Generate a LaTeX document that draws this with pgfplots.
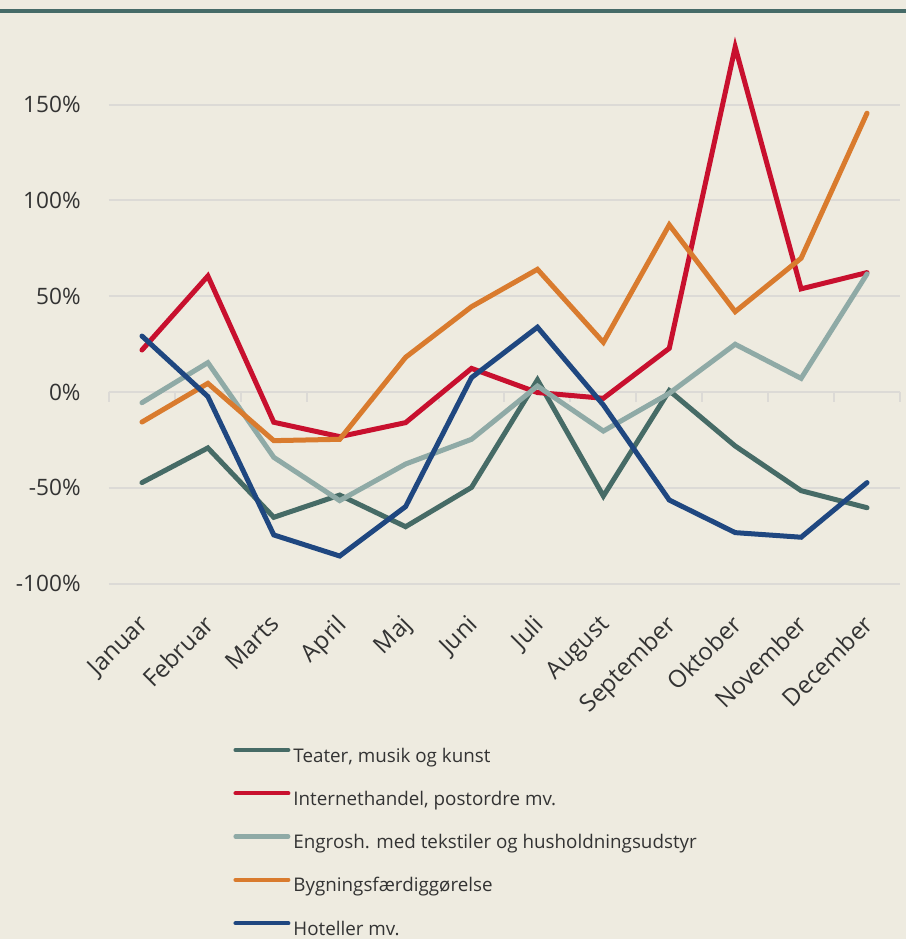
\documentclass[border=0pt]{standalone}
\usepackage{fontspec}
\setmainfont{Open Sans}
\usepackage{pgfplots}
\pgfplotsset{compat=1.18}
\definecolor{bgc}{HTML}{EEEBE0}
\definecolor{gridc}{HTML}{DCDAD6}
\definecolor{topc}{HTML}{466B68}
\definecolor{cteater}{HTML}{466B66}
\definecolor{cinternet}{HTML}{C8102E}
\definecolor{cengros}{HTML}{8FAAA6}
\definecolor{cbyg}{HTML}{D97B2E}
\definecolor{chotel}{HTML}{1F4780}
\definecolor{txt}{HTML}{333333}
\begin{document}
\begin{tikzpicture}
\fill[bgc] (-54.5pt,-177.7pt) rectangle (398.5pt,291.8pt);
\draw[topc, line width=1.6pt] (-54.5pt,286.3pt) -- (398.5pt,286.3pt);
\begin{axis}[
  scale only axis,
  width=395.5pt, height=270.2pt,
  xmin=-0.5, xmax=11.5, ymin=-100, ymax=182,
  clip=false,
  axis line style={draw=none},
  xtick style={draw=none}, ytick style={draw=none},
  xtick={0,...,11},
  xticklabels={Januar,Februar,Marts,April,Maj,Juni,Juli,August,September,Oktober,November,December},
  ytick={-100,-50,0,50,100,150},
  yticklabels={-100\%,-50\%,0\%,50\%,100\%,150\%},
  ymajorgrids,
  grid style={gridc, line width=1pt},
  yticklabel style={anchor=east, inner sep=0pt, xshift=-14pt, font=\fontsize{11.3pt}{13pt}\selectfont, text=txt},
  xticklabel style={rotate=45, anchor=north east, inner sep=0pt, yshift=-8.6pt, xshift=-12.2pt, font=\fontsize{12pt}{14pt}\selectfont, text=txt},
  every axis plot/.append style={line width=2.5pt, line cap=round, line join=miter},
  legend style={at={(0.1568,-0.303)}, anchor=north west, draw=none, fill=none,
    inner sep=0pt, row sep=13pt, column sep=1.5pt,
    nodes={inner sep=0pt, text=txt},
    font=\fontsize{9.4pt}{11pt}\selectfont},
  legend cell align=left,
  legend image code/.code={\draw[#1, line width=2.2pt, line cap=round] (1.1pt,3.2pt) -- (27.4pt,3.2pt);},
]
\draw[gridc, line width=1pt] (axis cs:-0.5,0) -- (axis cs:11.5,0);
\pgfplotsinvokeforeach{-0.5,0.5,1.5,2.5,3.5,4.5,5.5,6.5,7.5,8.5,9.5,10.5,11.5}{
  \draw[gridc, line width=1pt] (axis cs:#1,0) -- (axis cs:#1,-5.2);
}
\addplot[cteater] coordinates {(0,-47.3) (1,-29.2) (2,-65.4) (3,-53.8) (4,-70.3) (5,-49.8) (6,6.3) (7,-54.3) (8,0.7) (9,-28.2) (10,-51.5) (11,-60.4)};
\addlegendentry{Teater, musik og kunst}
\addplot[cinternet] coordinates {(0,21.9) (1,60.5) (2,-15.8) (3,-23.3) (4,-16) (5,12.3) (6,-0.3) (7,-3.3) (8,22.8) (9,180) (10,53.8) (11,62.3)};
\addlegendentry{Internethandel, postordre mv.}
\addplot[cengros] coordinates {(0,-5.6) (1,15.3) (2,-34.1) (3,-56.7) (4,-37.6) (5,-24.7) (6,3.1) (7,-20.4) (8,-0.7) (9,24.9) (10,7.1) (11,61.6)};
\addlegendentry{Engrosh. med tekstiler og husholdningsudstyr}
\addplot[cbyg] coordinates {(0,-15.7) (1,4.5) (2,-25.4) (3,-24.7) (4,18.1) (5,44.5) (6,64) (7,25.9) (8,87.2) (9,41.9) (10,69.8) (11,145.5)};
\addlegendentry{Bygningsfærdiggørelse}
\addplot[chotel] coordinates {(0,29.2) (1,-2.4) (2,-74.6) (3,-85.6) (4,-59.8) (5,7.5) (6,33.8) (7,-6.8) (8,-56.4) (9,-73.4) (10,-75.8) (11,-47.3)};
\addlegendentry{Hoteller mv.}
\end{axis}
\pgfresetboundingbox
\path (-54.5pt,-177.7pt) rectangle (398.5pt,291.8pt);
\end{tikzpicture}
\end{document}
